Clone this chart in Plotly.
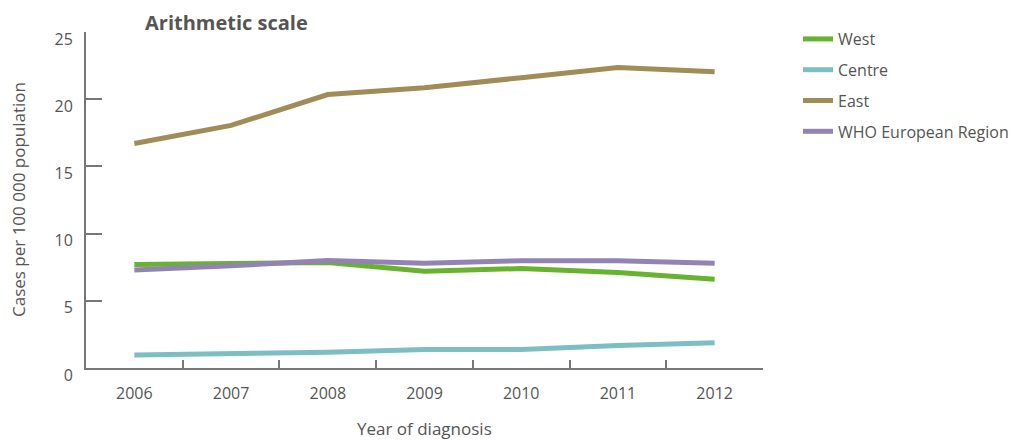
import plotly.graph_objects as go

years = ["2006", "2007", "2008", "2009", "2010", "2011", "2012"]
west = [7.7, 7.8, 7.85, 7.2, 7.4, 7.1, 6.6]
centre = [0.97, 1.08, 1.17, 1.38, 1.38, 1.68, 1.88]
east = [16.7, 18.05, 20.35, 20.85, 21.6, 22.35, 22.05]
who = [7.3, 7.6, 8.0, 7.8, 7.98, 7.98, 7.8]

series = [
    ("West", west, "#67b22f"),
    ("Centre", centre, "#7dbec3"),
    ("East", east, "#a08c57"),
    ("WHO European Region", who, "#9283b4"),
]

FONT = "Open Sans"
GRAY = "#555555"

fig = go.Figure()
for name, vals, color in series:
    fig.add_trace(go.Scatter(
        x=years, y=vals, mode="lines", name=name, legendgroup=name,
        line=dict(color=color, width=5),
    ))

fig.update_layout(
    width=1026, height=440,
    margin=dict(l=78, r=271, t=24, b=80, autoexpand=False),
    plot_bgcolor="white", paper_bgcolor="white",
    font=dict(family=FONT, color=GRAY, size=15),
    showlegend=True,
    legend=dict(
        x=(798 - 86) / 677, y=1.0 + 10 / 336, xanchor="left", yanchor="top",
        font=dict(size=16, color=GRAY, family=FONT),
        tracegroupgap=7, itemwidth=30, bgcolor="rgba(0,0,0,0)",
    ),
    xaxis=dict(
        type="category", range=[-0.5, 6.5], tickson="boundaries",
        ticks="inside", ticklen=8, tickcolor="#777777", tickwidth=1.5,
        showline=True, linecolor="#777777", linewidth=2,
        showgrid=False, zeroline=False,
        tickfont=dict(size=16, color=GRAY, family=FONT),
        ticklabelstandoff=10,
    ),
    yaxis=dict(
        range=[0, 25], tickvals=[0, 5, 10, 15, 20, 25],
        ticks="inside", ticklen=16, tickcolor="#777777", tickwidth=1.5,
        showline=True, linecolor="#777777", linewidth=2,
        showgrid=False, zeroline=False,
        tickfont=dict(size=16, color=GRAY, family=FONT),
        ticklabelstandoff=8, ticklabelshift=7,
    ),
    annotations=[
        dict(text="<b>Arithmetic scale</b>", xref="paper", yref="paper",
             x=(143 - 86) / 677, y=1.0, xanchor="left", yanchor="bottom",
             yshift=-6, showarrow=False,
             font=dict(size=20, color=GRAY, family=FONT)),
        dict(text="Year of diagnosis", xref="paper", yref="paper",
             x=0.5, y=0, xanchor="center", yanchor="middle",
             yshift=-60, showarrow=False,
             font=dict(size=17, color=GRAY, family=FONT)),
        dict(text="Cases per 100 000 population", xref="paper", yref="paper",
             x=0, y=0.5, xanchor="center", yanchor="middle", textangle=-90,
             xshift=-68, showarrow=False,
             font=dict(size=17, color=GRAY, family=FONT)),
    ],
)

fig.write_html("out.html")
